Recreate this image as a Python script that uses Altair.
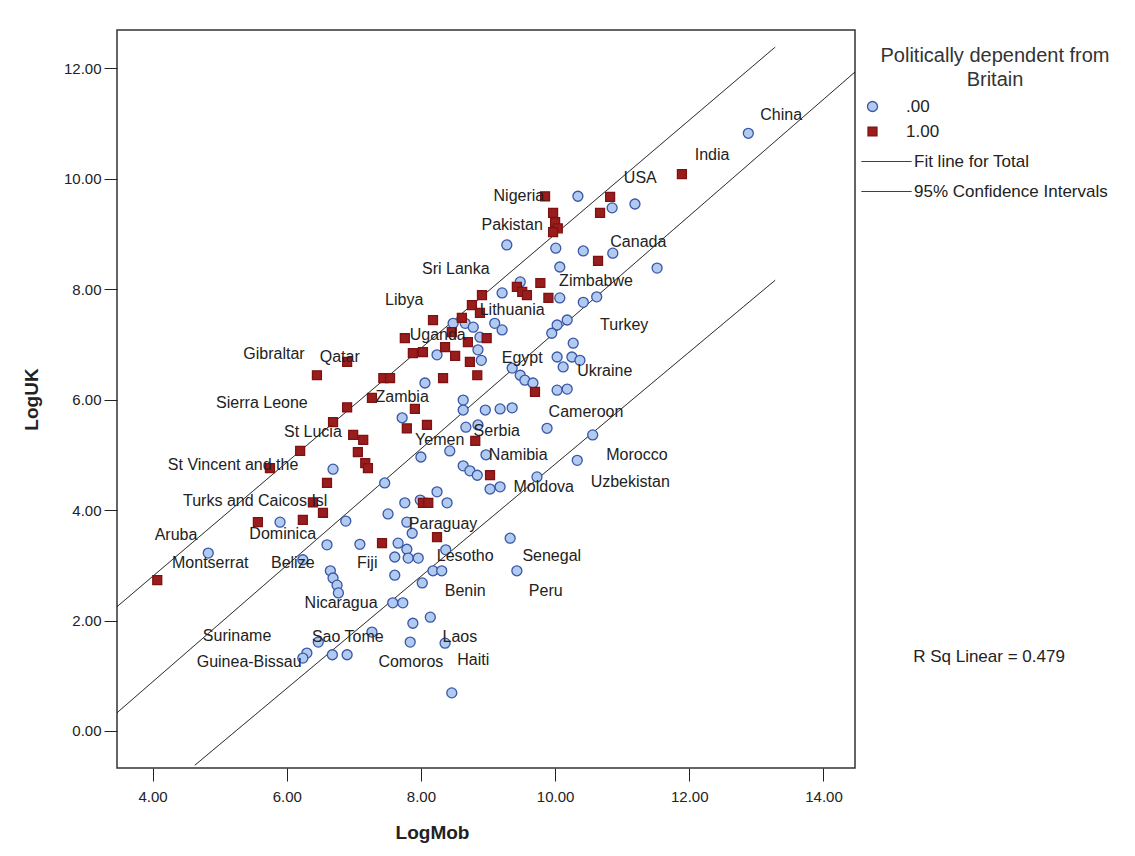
import altair as alt
import pandas as pd

# ---- data ----
blue_x = [12.88, 10.34, 10.85, 11.19, 9.28, 10.01, 10.42, 10.86, 11.52, 10.07,
          9.48, 9.21, 10.07, 10.42, 10.62, 10.18, 10.03, 9.95, 8.48, 8.66,
          8.78, 8.88, 9.10, 9.21, 8.24, 8.85, 10.27, 10.25, 10.37, 10.03,
          10.12, 9.36, 9.48, 9.55, 9.67, 10.03, 10.18, 8.06, 8.63, 8.63,
          8.96, 9.18, 9.36, 7.72, 8.67, 8.85, 9.88, 10.56, 8.43, 8.97,
          8.00, 8.63, 8.73, 8.84, 9.73, 10.33, 9.03, 9.18, 6.69, 7.46,
          8.24, 8.39, 7.99, 7.76, 7.51, 6.88, 7.79, 7.87, 5.90, 9.33,
          7.09, 7.66, 7.79, 7.61, 7.81, 7.96, 8.37, 6.60, 6.65, 6.69,
          6.75, 6.77, 4.83, 6.24, 9.43, 8.18, 8.31, 7.61, 8.02, 7.58,
          7.73, 8.14, 7.88, 7.27, 7.84, 6.47, 8.36, 6.30, 6.24, 6.68,
          6.90, 8.46, 8.90]
blue_y = [10.82, 9.68, 9.47, 9.54, 8.80, 8.74, 8.69, 8.65, 8.38, 8.40,
          8.13, 7.93, 7.84, 7.76, 7.86, 7.44, 7.35, 7.20, 7.38, 7.38,
          7.31, 7.13, 7.38, 7.26, 6.81, 6.90, 7.02, 6.77, 6.71, 6.77,
          6.59, 6.57, 6.44, 6.35, 6.30, 6.17, 6.19, 6.30, 5.99, 5.81,
          5.81, 5.83, 5.85, 5.67, 5.50, 5.54, 5.48, 5.36, 5.07, 5.00,
          4.96, 4.80, 4.71, 4.63, 4.60, 4.90, 4.38, 4.42, 4.74, 4.49,
          4.33, 4.13, 4.18, 4.13, 3.93, 3.80, 3.78, 3.58, 3.78, 3.49,
          3.38, 3.40, 3.29, 3.15, 3.13, 3.13, 3.28, 3.37, 2.90, 2.77,
          2.64, 2.50, 3.22, 3.10, 2.90, 2.90, 2.90, 2.82, 2.68, 2.32,
          2.32, 2.06, 1.95, 1.79, 1.61, 1.61, 1.59, 1.41, 1.32, 1.38,
          1.38, 0.69, 6.71]

red_x = [4.07, 5.57, 5.75, 6.20, 6.24, 6.39, 6.54, 6.60, 6.45, 6.69,
         6.90, 6.90, 6.99, 7.14, 7.06, 7.17, 7.21, 7.27, 7.44, 7.54,
         7.42, 7.76, 7.79, 7.88, 7.91, 8.03, 8.09, 8.03, 8.11, 8.18,
         8.24, 8.33, 8.36, 8.46, 8.51, 8.61, 8.70, 8.73, 8.76, 8.81,
         8.84, 8.88, 8.91, 8.98, 9.03, 9.43, 9.51, 9.58, 9.70, 9.78,
         9.90, 9.85, 9.97, 10.00, 10.04, 9.97, 10.64, 10.67, 10.82, 11.89]
red_y = [2.73, 3.78, 4.76, 5.07, 3.82, 4.14, 3.95, 4.49, 6.44, 5.59,
         5.86, 6.68, 5.36, 5.27, 5.05, 4.85, 4.76, 6.03, 6.39, 6.39,
         3.40, 7.11, 5.48, 6.84, 5.83, 6.86, 5.54, 4.13, 4.13, 7.44,
         3.51, 6.39, 6.95, 7.22, 6.79, 7.48, 7.04, 6.68, 7.71, 5.25,
         6.44, 7.57, 7.89, 7.11, 4.63, 8.04, 7.95, 7.89, 6.14, 8.11,
         7.84, 9.68, 9.38, 9.21, 9.10, 9.03, 8.51, 9.38, 9.67, 10.08]

label_names = ["China", "India", "USA", "Nigeria", "Pakistan", "Canada", "Sri Lanka",
               "Zimbabwe", "Libya", "Lithuania", "Turkey", "Uganda", "Gibraltar", "Qatar",
               "Egypt", "Ukraine", "Zambia", "Sierra Leone", "Cameroon", "St Lucia",
               "Yemen", "Serbia", "Namibia", "Morocco", "St Vincent and the", "Moldova",
               "Uzbekistan", "Turks and Caicos Isl", "Paraguay", "Aruba", "Dominica",
               "Montserrat", "Belize", "Fiji", "Lesotho", "Senegal", "Benin", "Peru",
               "Nicaragua", "Suriname", "Sao Tome", "Laos", "Guinea-Bissau", "Comoros",
               "Haiti"]
label_x = [13.37, 12.34, 11.27, 9.46, 9.36, 11.24, 8.52,
           10.61, 7.75, 9.36, 11.03, 8.25, 5.81, 6.79,
           9.51, 10.74, 7.72, 5.63, 10.46, 6.39,
           8.28, 9.13, 9.45, 11.22, 5.20, 9.83,
           11.12, 5.53, 8.33, 4.35, 5.94,
           4.86, 6.09, 7.20, 8.66, 9.95, 8.66, 9.86,
           6.81, 5.26, 6.91, 8.58, 5.44, 7.85,
           8.78]
label_y = [11.15, 10.42, 10.01, 9.68, 9.16, 8.85, 8.36,
           8.14, 7.80, 7.62, 7.35, 7.17, 6.82, 6.77,
           6.75, 6.52, 6.05, 5.94, 5.77, 5.41,
           5.27, 5.43, 5.00, 5.00, 4.81, 4.42,
           4.51, 4.16, 3.75, 3.55, 3.57,
           3.04, 3.04, 3.04, 3.17, 3.17, 2.53, 2.53,
           2.32, 1.72, 1.70, 1.70, 1.25, 1.25,
           1.29]

fit_x = [3.47, 14.47]
fit_y = [0.33, 11.93]
ci_up_x = [3.47, 13.28]
ci_up_y = [2.25, 12.38]
ci_lo_x = [4.63, 13.28]
ci_lo_y = [-0.62, 8.16]

x_ticks = [4, 6, 8, 10, 12, 14]
y_ticks = [0, 2, 4, 6, 8, 10, 12]
x_domain = [3.47, 14.47]
y_domain = [-0.67, 12.69]
r_sq_text = "R Sq Linear = 0.479"
legend_title = ["Politically dependent from", "Britain"]

groups = [".00", "1.00"]
fit_kinds = ["Fit line for Total", "95% Confidence Intervals"]

# ---- tables ----
pts = pd.concat([
    pd.DataFrame({"LogMob": blue_x, "LogUK": blue_y, "dep": groups[0]}),
    pd.DataFrame({"LogMob": red_x, "LogUK": red_y, "dep": groups[1]}),
], ignore_index=True)

labels = pd.DataFrame({"name": label_names, "LogMob": label_x, "LogUK": label_y})

lines = pd.concat([
    pd.DataFrame({"LogMob": fit_x, "LogUK": fit_y, "kind": fit_kinds[0], "seg": "fit"}),
    pd.DataFrame({"LogMob": ci_up_x, "LogUK": ci_up_y, "kind": fit_kinds[1], "seg": "up"}),
    pd.DataFrame({"LogMob": ci_lo_x, "LogUK": ci_lo_y, "kind": fit_kinds[1], "seg": "lo"}),
], ignore_index=True)

FONT = "Liberation Sans"
TXT = "#222222"
TFONT = "Liberation Sans Narrow, Liberation Sans"

xscale = alt.Scale(domain=x_domain, nice=False, zero=False)
yscale = alt.Scale(domain=y_domain, nice=False, zero=False)

xaxis = alt.Axis(values=x_ticks, format=".2f", title="LogMob", grid=False, domain=False,
                 tickSize=13, tickColor="#222", labelFontSize=15, labelColor=TXT,
                 labelFont=FONT, labelPadding=8, titleFont=TFONT, titleX=315,
                 titleFontSize=19, titleFontWeight="bold", titleColor=TXT, titlePadding=19)
yaxis = alt.Axis(values=y_ticks, format=".2f", title="LogUK", grid=False, domain=False,
                 tickSize=13, tickColor="#222", labelFontSize=15, labelColor=TXT,
                 labelFont=FONT, labelPadding=3, titleFont=TFONT,
                 titleFontSize=19, titleFontWeight="bold", titleColor=TXT, titlePadding=22)

leg1 = alt.Legend(orient="none", legendX=747, legendY=68, title=None,
                  labelFont=FONT, labelFontSize=17, labelColor=TXT, labelOffset=25,
                  rowPadding=7, padding=0, symbolStrokeWidth=1.3)

leg2 = alt.Legend(orient="none", legendX=741, legendY=123, title=None,
                  symbolType="M-1,0H9", symbolSize=100, symbolStrokeColor="black",
                  symbolStrokeWidth=1, labelOffset=39, labelFont=FONT, labelFontSize=17,
                  labelColor=TXT, rowPadding=12, padding=0, labelLimit=300)

line_layer = alt.Chart(lines).mark_line(clip=True, color="black", strokeWidth=1).encode(
    x=alt.X("LogMob:Q", scale=xscale, axis=xaxis),
    y=alt.Y("LogUK:Q", scale=yscale, axis=yaxis),
    detail="seg:N",
    strokeDash=alt.StrokeDash("kind:N", scale=alt.Scale(domain=fit_kinds, range=[[1, 0], [1, 0]]),
                              legend=leg2),
)

point_layer = alt.Chart(pts).mark_point(filled=True, strokeWidth=1.3, opacity=1).encode(
    x=alt.X("LogMob:Q", scale=xscale),
    y=alt.Y("LogUK:Q", scale=yscale),
    color=alt.Color("dep:N", scale=alt.Scale(domain=groups, range=["#b1cbf0", "#9a1d1d"]), legend=leg1),
    stroke=alt.Stroke("dep:N", scale=alt.Scale(domain=groups, range=["#3a56a6", "#7d1212"]), legend=leg1),
    shape=alt.Shape("dep:N", scale=alt.Scale(domain=groups, range=["circle", "square"]), legend=leg1),
    size=alt.Size("dep:N", scale=alt.Scale(domain=groups, range=[100, 80]), legend=leg1),
)

text_layer = alt.Chart(labels).mark_text(font=FONT, fontSize=16, color=TXT,
                                          align="center", baseline="middle").encode(
    x=alt.X("LogMob:Q", scale=xscale),
    y=alt.Y("LogUK:Q", scale=yscale),
    text="name:N",
)

one = pd.DataFrame({"t": [r_sq_text]})
rsq_layer = alt.Chart(one).mark_text(
    font=FONT, fontSize=17, color=TXT, align="center", baseline="middle").encode(
    x=alt.value(872), y=alt.value(627), text="t:N")

title_layer = alt.Chart(one).mark_text(
    font=FONT, fontSize=20, color="#333333", align="center", baseline="top",
    lineHeight=24).encode(
    x=alt.value(878), y=alt.value(16), text=alt.value(legend_title))

chart = alt.layer(line_layer, point_layer, text_layer, rsq_layer, title_layer).properties(
    width=738, height=738,
    autosize=alt.AutoSizeParams(type="none"),
    padding={"left": 109, "top": 22, "right": 270, "bottom": 78},
    background="white",
).configure_view(stroke="#333333", strokeWidth=1.5)

chart.save("out.html", embed_options={"renderer": "svg", "actions": False})
